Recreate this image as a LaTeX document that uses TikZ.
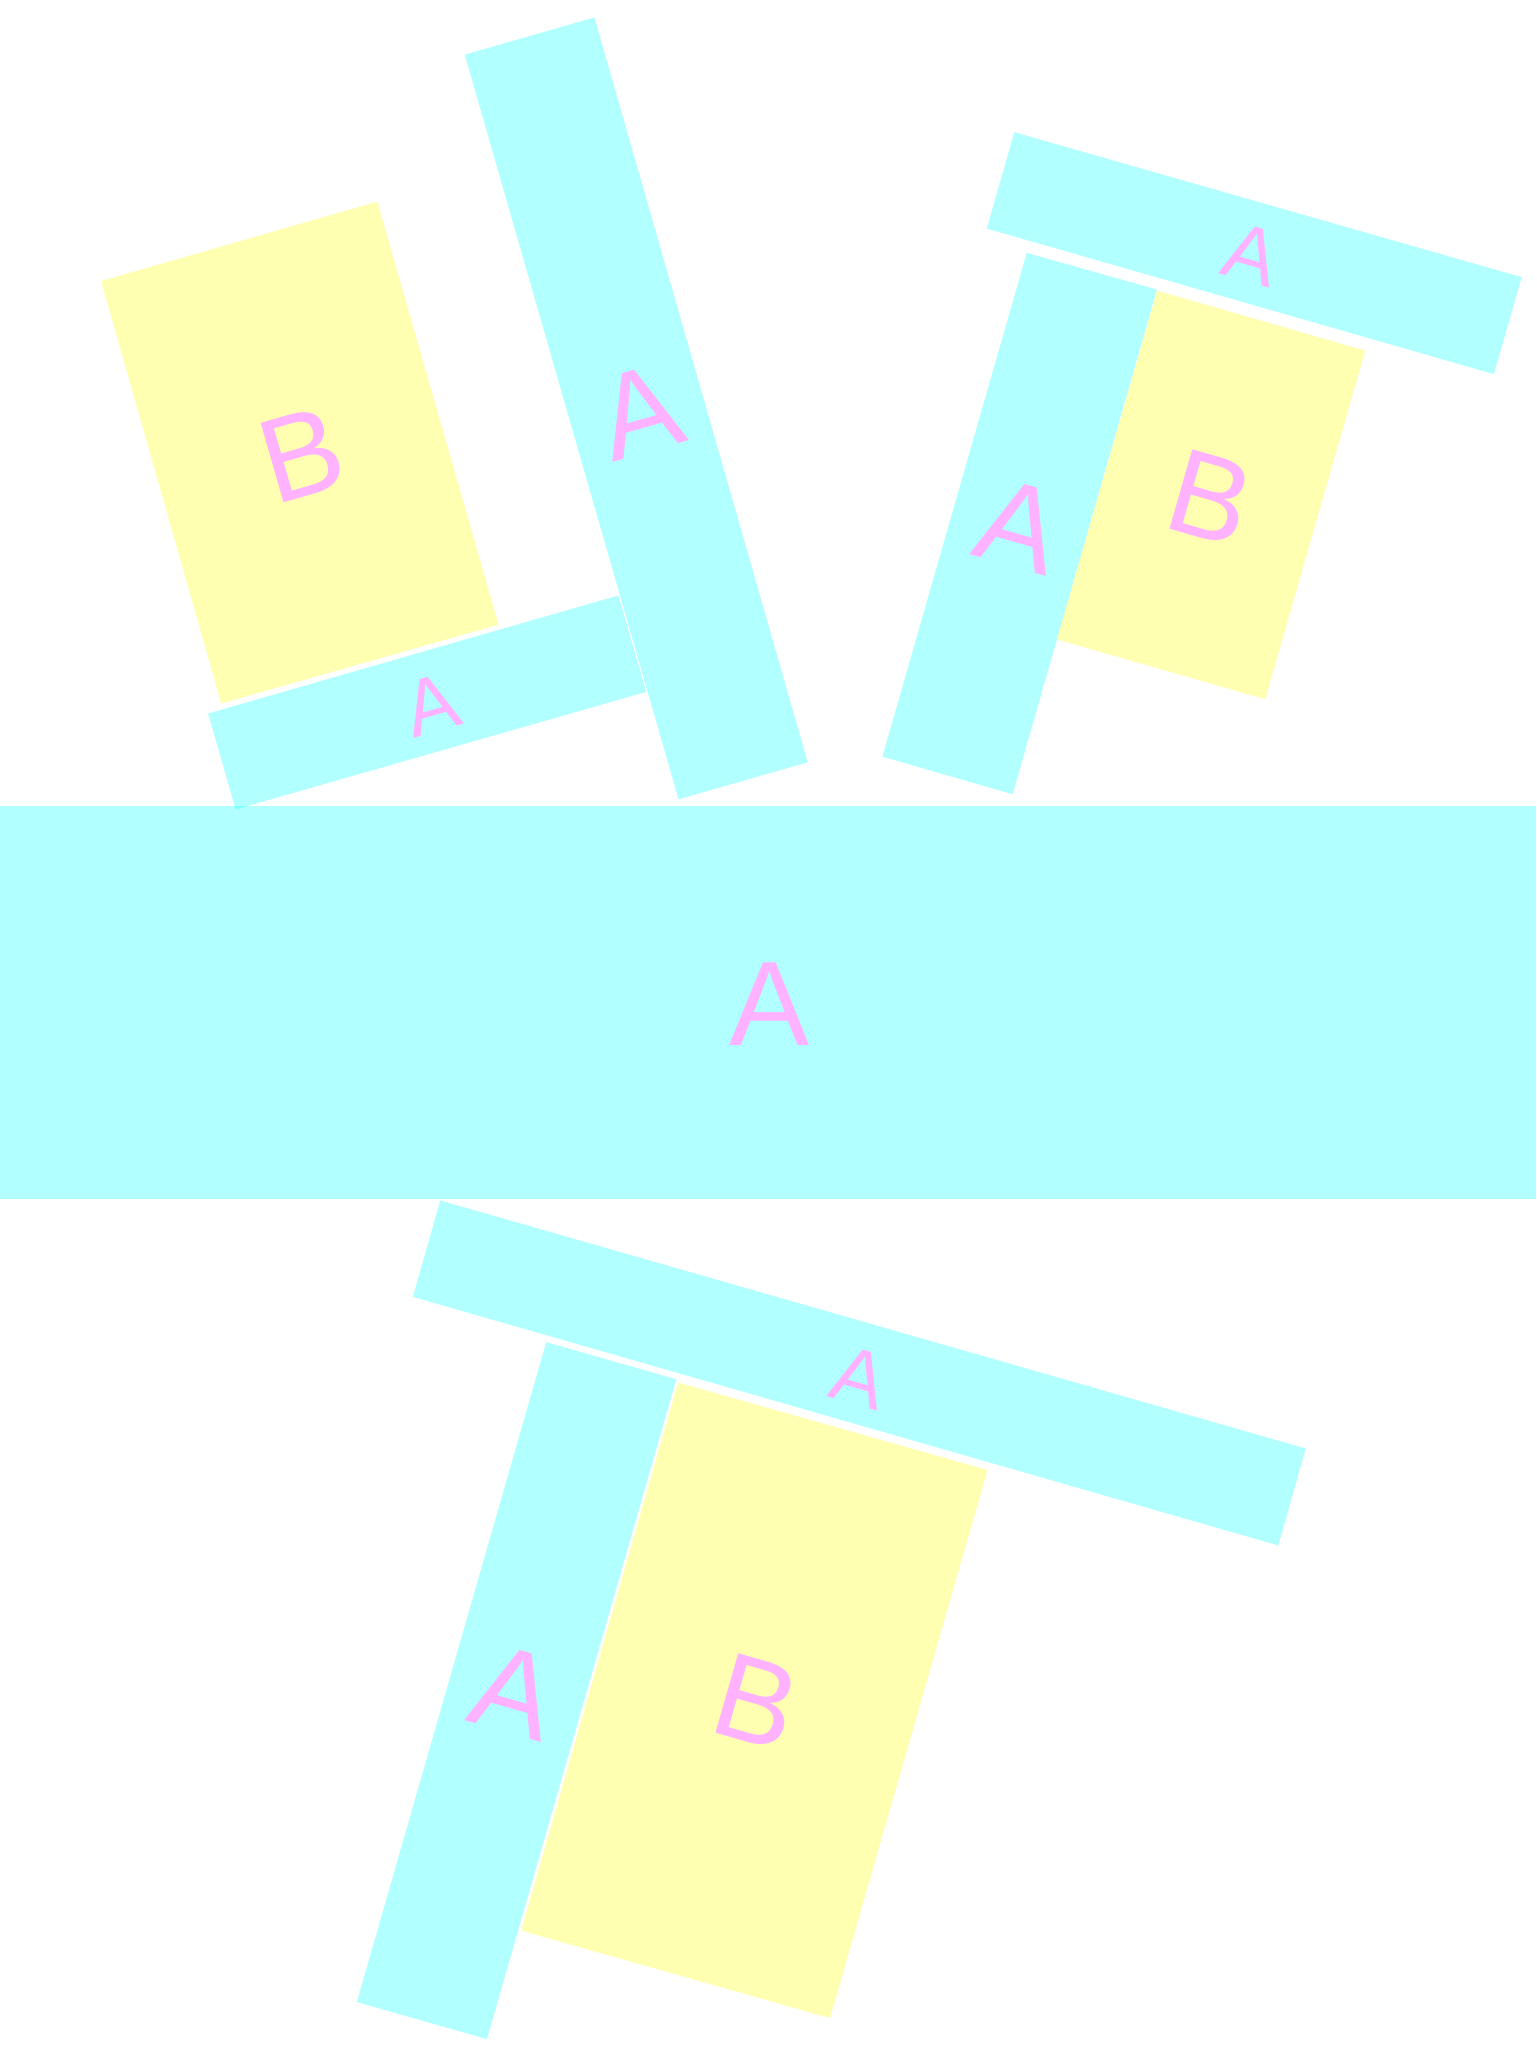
\documentclass[tikz,border=0pt]{standalone}
\usepackage{fontspec}
\setmainfont{Liberation Sans}
\definecolor{lblpink}{RGB}{255,178,255}
\definecolor{purecyan}{RGB}{0,255,255}
\definecolor{pureyellow}{RGB}{255,255,0}
\begin{document}
\begin{tikzpicture}[x=1pt,y=-1pt,
  cyanfill/.style={fill=purecyan,fill opacity=0.3},
  yellowfill/.style={fill=pureyellow,fill opacity=0.3},
  biglbl/.style={text=lblpink,inner sep=0pt,font=\fontsize{92}{110}\selectfont},
  smalllbl/.style={text=lblpink,inner sep=0pt,font=\fontsize{61}{73}\selectfont}]
\useasboundingbox (0,0) rectangle (1176,1568);
% top-left group
\path[cyanfill] (355.8,41.8) -- (455.1,13.4) -- (618.4,583.6) -- (519.5,612.0) -- cycle;
\path[yellowfill] (77.4,215.2) -- (288.9,154.4) -- (381.7,478.2) -- (169.4,538.6) -- cycle;
\path[cyanfill] (159.3,546.3) -- (473.4,455.9) -- (494.8,529.7) -- (180.4,619.7) -- cycle;
% top-right group
\path[cyanfill] (776.6,101.2) -- (1165.1,212.2) -- (1143.7,286.4) -- (755.5,175.0) -- cycle;
\path[cyanfill] (786.1,193.6) -- (885.8,221.7) -- (775.3,608.1) -- (675.6,579.3) -- cycle;
\path[yellowfill] (886.0,222.5) -- (1045.3,268.5) -- (968.7,535.3) -- (809.3,489.6) -- cycle;
% big bar
\path[cyanfill] (0,616.8) rectangle (1176,918.0);
% bottom group
\path[cyanfill] (337.1,919.1) -- (999.7,1109.0) -- (978.7,1183.2) -- (316.1,992.9) -- cycle;
\path[cyanfill] (418.2,1027.6) -- (517.8,1056.0) -- (372.8,1561.2) -- (273.2,1532.8) -- cycle;
\path[yellowfill] (519.2,1058.5) -- (756.1,1125.5) -- (635.5,1545.1) -- (399.1,1478.1) -- cycle;
% labels
\node[biglbl,rotate=16] (tlA) at (490,315) {A};
\node[biglbl,rotate=16] (tlB) at (231,348) {B};
\node[smalllbl,rotate=16] (tlsA) at (330,539.5) {A};
\node[smalllbl,rotate=-16] (trsA) at (958.5,194.8) {A};
\node[biglbl,rotate=-16] (trA) at (780.5,402.6) {A};
\node[biglbl,rotate=-16] (trB) at (927,381) {B};
\node[biglbl] (midA) at (589,769) {A};
\node[smalllbl,rotate=-16] (bsA) at (658.3,1054.3) {A};
\node[biglbl,rotate=-16] (bA) at (393.5,1295.3) {A};
\node[biglbl,rotate=-16] (bB) at (579,1303) {B};
\end{tikzpicture}
\end{document}
